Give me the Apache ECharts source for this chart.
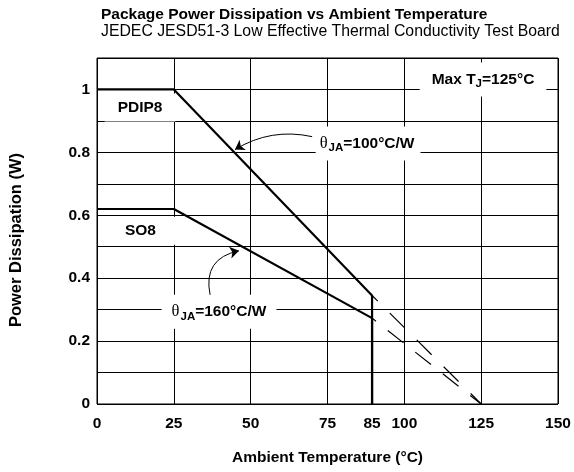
<!DOCTYPE html>
<html>
<head>
<meta charset="utf-8">
<script src="https://cdn.jsdelivr.net/npm/echarts@6.0.0/dist/echarts.min.js"></script>
<style>
  html, body { margin: 0; padding: 0; background: #fff; }
  #chart { width: 574px; height: 472px; }
</style>
</head>
<body>
<div id="chart"></div>
<script>
// ---- Data ----
const titleText = 'Package Power Dissipation vs Ambient Temperature';
const subtitleText = 'JEDEC JESD51-3 Low Effective Thermal Conductivity Test Board';
const xAxisName = 'Ambient Temperature (°C)';
const yAxisName = 'Power Dissipation (W)';

// x tick positions (as drawn on the linear scale) and their printed labels
const xTickValues = [0, 25, 50, 75, 89.5, 100, 125, 150];
const xTickLabels = ['0', '25', '50', '75', '85', '100', '125', '150'];
const yTickValues = [0, 0.2, 0.4, 0.6, 0.8, 1];
const yTickLabels = ['0', '0.2', '0.4', '0.6', '0.8', '1'];

// PDIP8 derating curve (solid)
const pdipTemp = [0, 25, 89.5, 89.5];
const pdipPower = [1.0, 1.0, 0.345, 0];
// SO8 derating curve (solid)
const so8Temp = [0, 25, 89.5, 89.5];
const so8Power = [0.62, 0.62, 0.273, 0];
// Dashed extrapolations to Tj max
const pdipDashTemp = [89.5, 125];
const pdipDashPower = [0.345, 0];
const so8DashTemp = [89.5, 125];
const so8DashPower = [0.273, 0];

// Annotation anchors (data coordinates)
const arrowPdip = [[70.0, 0.850], [44.9, 0.809]];
const arrowSo8 = [[36.8, 0.347], [46.2, 0.487]];

const zip = (a, b) => a.map((v, i) => [v, b[i]]);
const FONT = "'Liberation Sans', Arial, Helvetica, sans-serif";

const chart = echarts.init(document.getElementById('chart'), null, { renderer: 'canvas' });

const option = {
  backgroundColor: '#fff',
  animation: false,
  title: {
    text: titleText,
    subtext: subtitleText,
    left: 101,
    top: 6,
    padding: 0,
    itemGap: 0,
    textStyle: { fontFamily: FONT, fontSize: 15.5, lineHeight: 17, fontWeight: 'bold', color: '#000' },
    subtextStyle: { fontFamily: FONT, fontSize: 15.8, lineHeight: 17, fontWeight: 'normal', color: '#000' }
  },
  grid: {
    left: 97, right: 16, top: 58, bottom: 68,
    show: true, borderColor: '#000', borderWidth: 1, backgroundColor: 'transparent',
    containLabel: false
  },
  xAxis: {
    type: 'value', min: 0, max: 150, interval: 25,
    name: xAxisName, nameLocation: 'middle', nameGap: 46,
    nameTextStyle: { fontFamily: FONT, fontSize: 15.5, fontWeight: 'bold', color: '#000' },
    axisLine: { show: false },
    axisTick: { show: false },
    splitLine: { show: true, lineStyle: { color: '#000', width: 1 } },
    axisLabel: {
      customValues: xTickValues,
      formatter: (v) => {
        const i = xTickValues.findIndex(t => Math.abs(t - v) < 1e-6);
        return i >= 0 ? xTickLabels[i] : '';
      },
      margin: 12,
      fontFamily: FONT, fontSize: 15.5, fontWeight: 'bold', color: '#000'
    }
  },
  yAxis: {
    type: 'value', min: 0, max: 1.1, interval: 0.1,
    axisLine: { show: false },
    axisTick: { show: false },
    splitLine: { show: true, lineStyle: { color: '#000', width: 1 } },
    axisLabel: {
      customValues: yTickValues,
      formatter: (v) => {
        const i = yTickValues.findIndex(t => Math.abs(t - v) < 1e-6);
        return i >= 0 ? yTickLabels[i] : '';
      },
      margin: 7,
      fontFamily: FONT, fontSize: 15.5, fontWeight: 'bold', color: '#000'
    }
  },
  series: [
    {
      name: 'PDIP8', type: 'line', data: zip(pdipTemp, pdipPower),
      symbol: 'none', z: 5,
      lineStyle: { color: '#000', width: 2.2 }
    },
    {
      name: 'SO8', type: 'line', data: zip(so8Temp, so8Power),
      symbol: 'none', z: 5,
      lineStyle: { color: '#000', width: 2.2 }
    },
    {
      name: 'PDIP8 ext', type: 'line', data: zip(pdipDashTemp, pdipDashPower),
      symbol: 'none', z: 4,
      lineStyle: { color: '#000', width: 1.2, type: [21, 17], dashOffset: 13 }
    },
    {
      name: 'SO8 ext', type: 'line', data: zip(so8DashTemp, so8DashPower),
      symbol: 'none', z: 4,
      lineStyle: { color: '#000', width: 1.2, type: [20, 15], dashOffset: 15 }
    },
    {
      name: 'arrows', type: 'lines', coordinateSystem: 'cartesian2d', z: 6,
      symbol: ['none', 'arrow'], symbolSize: 9,
      lineStyle: { color: '#000', width: 1, opacity: 1 },
      data: [
        { coords: arrowPdip, lineStyle: { curveness: -0.2 } },
        { coords: arrowSo8, lineStyle: { curveness: 0.5 } }
      ]
    }
  ]
};
chart.setOption(option);

// Text annotations anchored in data space, with white boxes that break the grid
const notes = [
  { at: [14.0, 0.943], text: 'PDIP8', pad: [6, 13, 6, 13] },
  { at: [14.15, 0.551], text: 'SO8', pad: [6, 20, 6, 20] },
  { at: [125.6, 1.032], text: '{n|Max T}{s|J}{n|=125°C}', pad: [8, 12, 8, 12] },
  { at: [88.2, 0.828], text: '{t|θ}{s|JA}{n|=100°C/W}', pad: [8, 6, 8, 4] },
  { at: [39.7, 0.293], text: '{t|θ}{s|JA}{n|=160°C/W}', pad: [8, 10, 8, 10] }
];
const rich = {
  n: { fontFamily: FONT, fontSize: 15.5, fontWeight: 'bold', color: '#000', lineHeight: 18 },
  s: { fontFamily: FONT, fontSize: 11.5, fontWeight: 'bold', color: '#000', lineHeight: 18, padding: [9, 0, 0, 0] },
  t: { fontFamily: "'Liberation Serif', 'DejaVu Serif', serif", fontSize: 16.5, color: '#000', lineHeight: 18, padding: [0, 1, 0, 0] }
};
const graphics = notes.map(nt => {
  const p = chart.convertToPixel({ gridIndex: 0 }, nt.at);
  return {
    type: 'text', x: p[0], y: p[1], z: 3,
    style: {
      text: nt.text, rich: rich,
      fontFamily: FONT, fontSize: 15.5, fontWeight: 'bold', fill: '#000',
      align: 'center', verticalAlign: 'middle',
      backgroundColor: '#fff', padding: nt.pad
    }
  };
});
// Rotated y-axis title
graphics.push({
  type: 'text', x: 16, y: 240, rotation: Math.PI / 2, z: 3,
  style: {
    text: yAxisName, fontFamily: FONT, fontSize: 16.5, fontWeight: 'bold', fill: '#000',
    align: 'center', verticalAlign: 'middle'
  }
});
chart.setOption({ graphic: graphics });
</script>
</body>
</html>
